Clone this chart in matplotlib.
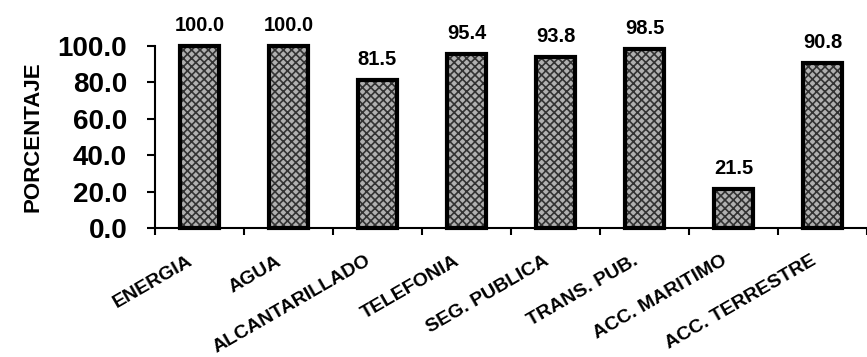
import numpy as np
import matplotlib
matplotlib.use('Agg')
import matplotlib.pyplot as plt
import matplotlib.transforms as mtransforms

categories = ['ENERGIA', 'AGUA', 'ALCANTARILLADO', 'TELEFONIA',
              'SEG. PUBLICA', 'TRANS. PUB.', 'ACC. MARITIMO', 'ACC. TERRESTRE']
values = [100.0, 100.0, 81.5, 95.4, 93.8, 98.5, 21.5, 90.8]
y_ticks = [0, 20, 40, 60, 80, 100]

plt.rcParams['font.family'] = ['Liberation Sans', 'DejaVu Sans']
plt.rcParams['font.weight'] = 'bold'
plt.rcParams['hatch.linewidth'] = 1.2


def main() -> None:
    fig = plt.figure(figsize=(8.67, 3.57), dpi=100)
    W, H = 867, 357
    left, right, bottom, top = 155, 867, 228, 46
    ax = fig.add_axes([left / W, 1 - bottom / H, (right - left) / W, (bottom - top) / H])

    x = np.arange(len(categories))
    bars = ax.bar(x, values, width=0.43, facecolor='#b0b0b0', edgecolor='black',
                  linewidth=3, hatch='xxxx', zorder=3, clip_on=False)
    for b in bars:
        b._hatch_color = (0.2, 0.2, 0.2, 1.0)

    for xi, v in zip(x, values):
        ax.annotate(f'{v:.1f}', xy=(xi, v), xytext=(0, 8), textcoords='offset points',
                    ha='center', va='bottom', fontsize=14.5, fontweight='bold')

    # slot width in px is ~89.5, so the last slot is cut by the figure edge
    ax.set_xlim(-0.5, -0.5 + (right - left) / 89.5)
    ax.set_ylim(0, 100)
    ax.set_yticks(y_ticks)
    ax.set_yticklabels([f'{t:.1f}' for t in y_ticks], fontsize=20, fontweight='bold')
    ax.tick_params(axis='y', length=6, width=1.5, pad=14, direction='out')

    ax.set_xticks(x)
    ax.set_xticklabels(categories, rotation=30, ha='right', va='center',
                       rotation_mode='anchor', fontsize=14, fontweight='bold')
    ax.tick_params(axis='x', length=0, pad=23)
    shift = mtransforms.ScaledTranslation(-8 / 100, 0, fig.dpi_scale_trans)
    for lbl in ax.get_xticklabels():
        lbl.set_transform(lbl.get_transform() + shift)
    ax.set_xticks(np.arange(-0.5, len(categories), 1), minor=True)
    ax.tick_params(axis='x', which='minor', length=5, width=1.5, direction='out')

    ax.set_ylabel('PORCENTAJE', fontsize=16, fontweight='bold', labelpad=10)

    ax.spines['top'].set_visible(False)
    ax.spines['right'].set_visible(False)
    ax.spines['left'].set_linewidth(1.5)
    ax.spines['bottom'].set_linewidth(1.5)

    fig.savefig('out.png', dpi=100)


if __name__ == '__main__':
    main()
